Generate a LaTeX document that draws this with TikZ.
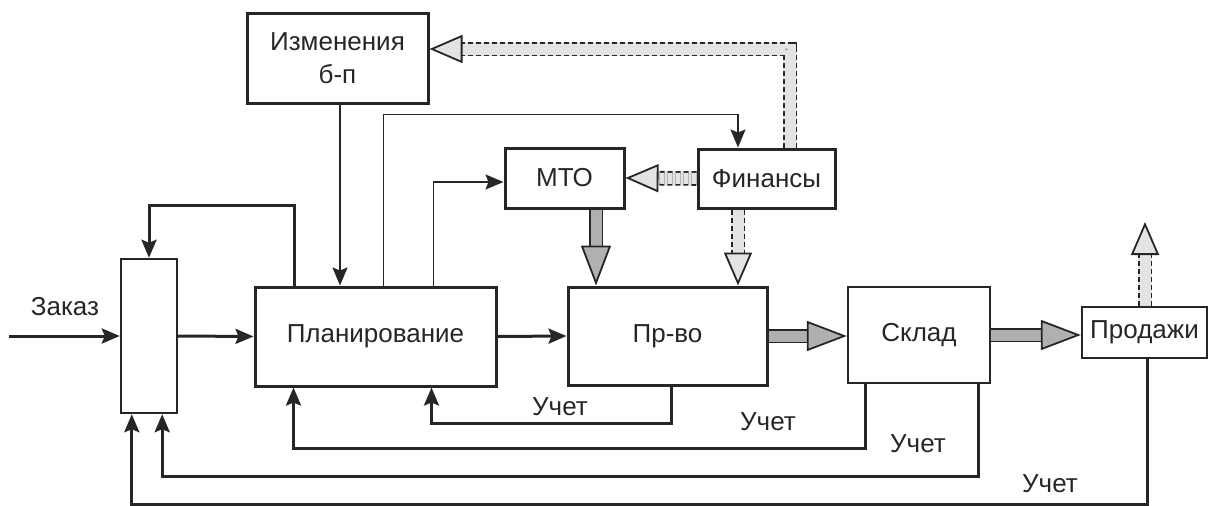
\documentclass[tikz,border=0pt]{standalone}
\usepackage{fontspec}
\setmainfont{Liberation Sans}
\usetikzlibrary{arrows.meta, positioning, calc}

\begin{document}
\begin{tikzpicture}[
    x=1pt, y=-1pt,
    font=\fontsize{26}{33}\selectfont,
    box/.style={rectangle, draw=black!85, line width=3pt, align=center, inner sep=2pt, text=black!85},
    lbl/.style={text=black!85, inner sep=0pt},
    arrow/.style={-{Stealth[length=18pt,width=15pt,inset=3pt]}, line width=3pt, draw=black!85},
    thinarrow/.style={arrow, line width=1.7pt},
    fatdark/.style={double=gray!62, double distance=11pt, line width=1.8pt, draw=black!85, -{Triangle[length=40pt,width=30pt,fill=gray!62]}},
    fatlight/.style={preaction={draw=gray!22, line width=14pt, -, shorten >=30pt}, double=gray!22, double distance=11pt, line width=1.8pt, draw=black!85, dash pattern=on 5pt off 3pt, -{Triangle[length=33pt,width=28pt,fill=gray!22]}}
]
\useasboundingbox (0,0) rectangle (1208,506);

% Nodes
\node[box, minimum width=181pt, minimum height=90pt] (izm) at (337.5,58) {Изменения\\б-п};
\node[box, minimum width=119pt, minimum height=60pt] (mto) at (564.5,178) {МТО};
\node[box, minimum width=137pt, minimum height=59pt] (fin) at (766.5,178.5) {Финансы};
\node[box, line width=2.4pt, minimum width=56pt, minimum height=154pt] (mrg) at (149,336) {};
\node[box, minimum width=241pt, minimum height=99pt] (plan) at (375.5,336.5) {Планирование};
\node[box, minimum width=199pt, minimum height=98pt] (prod) at (667.5,336) {Пр-во};
\node[box, line width=2.4pt, minimum width=142pt, minimum height=96pt] (skl) at (919,335) {Склад};
\node[box, line width=2.4pt, minimum width=125pt, minimum height=51pt] (sale) at (1144.5,332.5) {Продажи};
\coordinate (zin) at (9,336);
\coordinate (sout) at (1145,222);

% Labels
\node[lbl] (zlbl) at (65,307) {Заказ};
\node[lbl] (u1) at (560,407) {Учет};
\node[lbl] (u2) at (768,422) {Учет};
\node[lbl] (u3) at (918,444) {Учет};
\node[lbl] (u4) at (1050,484) {Учет};

% Connections
\draw[arrow] (zin) -- (mrg.west);
\draw[arrow] (mrg.east) -- (plan.west);
\draw[arrow] ([xshift=41pt]plan.north west) |- ([yshift=52pt]mrg.north) -- (mrg.north);
\draw[thinarrow] ([xshift=2.5pt]izm.south) -- ([xshift=2.5pt]izm.south |- plan.north);
\draw[thinarrow] ([xshift=130pt]plan.north west) -- ++(0,-171) -| ([xshift=-28.5pt]fin.north);
\draw[thinarrow] ([xshift=180pt]plan.north west) |- ([yshift=-4pt]mto.west);
\draw[arrow] (plan.east) -- (prod.west);

% Accounting loops
\draw[arrow] ([xshift=3.5pt]prod.south) -- ++(0,37) -| ([xshift=178pt]plan.south west);
\draw[arrow] ([xshift=19pt]skl.south west) -- ++(0,64) -| ([xshift=40pt]plan.south west);
\draw[arrow] ([xshift=-13pt]skl.south east) -- ++(0,92) -| ([xshift=-16pt]mrg.south east);
\draw[arrow] ([xshift=2.5pt]sale.south) -- ++(0,145) -| ([xshift=12pt]mrg.south west);

% Material and money flows
\draw[fatdark] ([xshift=31.5pt]mto.south) -- ([xshift=31.5pt]mto.south |- prod.north);
\draw[fatdark] (prod.east) -- (prod.east -| skl.west);
\draw[fatdark] (skl.east) -- (skl.east -| sale.west);
\draw[fatlight] ([xshift=-28.5pt]fin.south) -- ([xshift=-28.5pt]fin.south |- prod.north);
\draw[fatlight] (fin.west) -- (mto.east);
\draw[fatlight] ([xshift=23.5pt]fin.north) |- ([yshift=9pt]izm.east);
\draw[fatlight] (sale.north -| sout) -- (sout);

\end{tikzpicture}
\end{document}
